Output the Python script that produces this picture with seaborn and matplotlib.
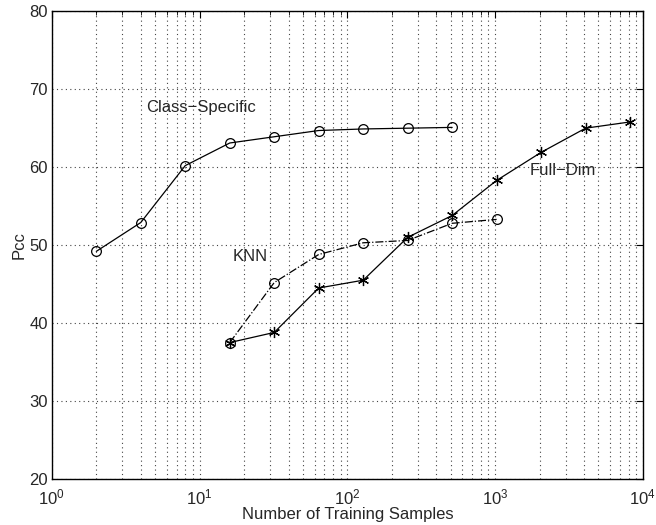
import numpy as np
import pandas as pd
import matplotlib
matplotlib.use('Agg')
import matplotlib.pyplot as plt
import seaborn as sns

# Data
cs_x = [2, 4, 8, 16, 32, 64, 128, 256, 512]
cs_y = [49.2, 52.9, 60.2, 63.1, 63.9, 64.7, 64.9, 65.0, 65.1]

knn_x = [16, 32, 64, 128, 256, 512, 1024]
knn_y = [37.5, 45.2, 48.8, 50.3, 50.6, 52.8, 53.3]

fd_x = [16, 32, 64, 128, 256, 512, 1024, 2048, 4096, 8192]
fd_y = [37.5, 38.8, 44.5, 45.5, 51.0, 53.8, 58.3, 61.9, 65.0, 65.8]

sns.set_style('white')
plt.rcParams['font.family'] = ['Liberation Sans', 'DejaVu Sans']
plt.rcParams['mathtext.fontset'] = 'custom'
plt.rcParams['mathtext.rm'] = 'Liberation Sans'
plt.rcParams['mathtext.it'] = 'Liberation Sans'

fig = plt.figure(figsize=(6.56, 5.25), dpi=100)
ax = fig.add_axes([0.079, 0.0876, 0.901, 0.891])

cs = pd.DataFrame({'x': cs_x, 'y': cs_y})
knn = pd.DataFrame({'x': knn_x, 'y': knn_y})
fd = pd.DataFrame({'x': fd_x, 'y': fd_y})

sns.lineplot(data=cs, x='x', y='y', ax=ax, color='black', linewidth=0.9,
             marker='o', markersize=7, markerfacecolor='none',
             markeredgecolor='black', markeredgewidth=0.9)
sns.lineplot(data=knn, x='x', y='y', ax=ax, color='black', linewidth=0.9,
             linestyle='-.', marker='o', markersize=7, markerfacecolor='none',
             markeredgecolor='black', markeredgewidth=0.9)
sns.lineplot(data=fd, x='x', y='y', ax=ax, color='black', linewidth=0.9,
             marker=(6, 2, 0), markersize=8, markeredgecolor='black',
             markeredgewidth=0.9)

ax.set_xscale('log')
ax.set_xlim(1, 1e4)
ax.set_ylim(20, 80)
ax.set_yticks(np.arange(20, 81, 10))

grid_ls = (0, (1, 3))
ax.grid(True, which='major', axis='both', linestyle=grid_ls, color='#444444', linewidth=0.8)
ax.grid(True, which='minor', axis='x', linestyle=grid_ls, color='#444444', linewidth=0.8)

for s in ax.spines.values():
    s.set_color('black')
    s.set_linewidth(1.0)

ax.tick_params(axis='both', which='major', direction='in', length=5, labelsize=12,
               color='black', pad=3)
ax.tick_params(axis='x', which='major', pad=6)
ax.tick_params(axis='x', which='minor', direction='in', length=3, color='black')
ax.tick_params(top=True, right=True, which='both')

ax.set_xlabel('Number of Training Samples', fontsize=12, labelpad=0)
ax.set_ylabel('Pcc', fontsize=12, labelpad=2)

ax.text(4.33, 67.6, 'Class\u2212Specific', fontsize=12, va='center', ha='left')
ax.text(16.8, 48.6, 'KNN', fontsize=12, va='center', ha='left')
ax.text(1718, 59.6, 'Full\u2212Dim', fontsize=12, va='center', ha='left')

fig.savefig('out.png', dpi=100)
